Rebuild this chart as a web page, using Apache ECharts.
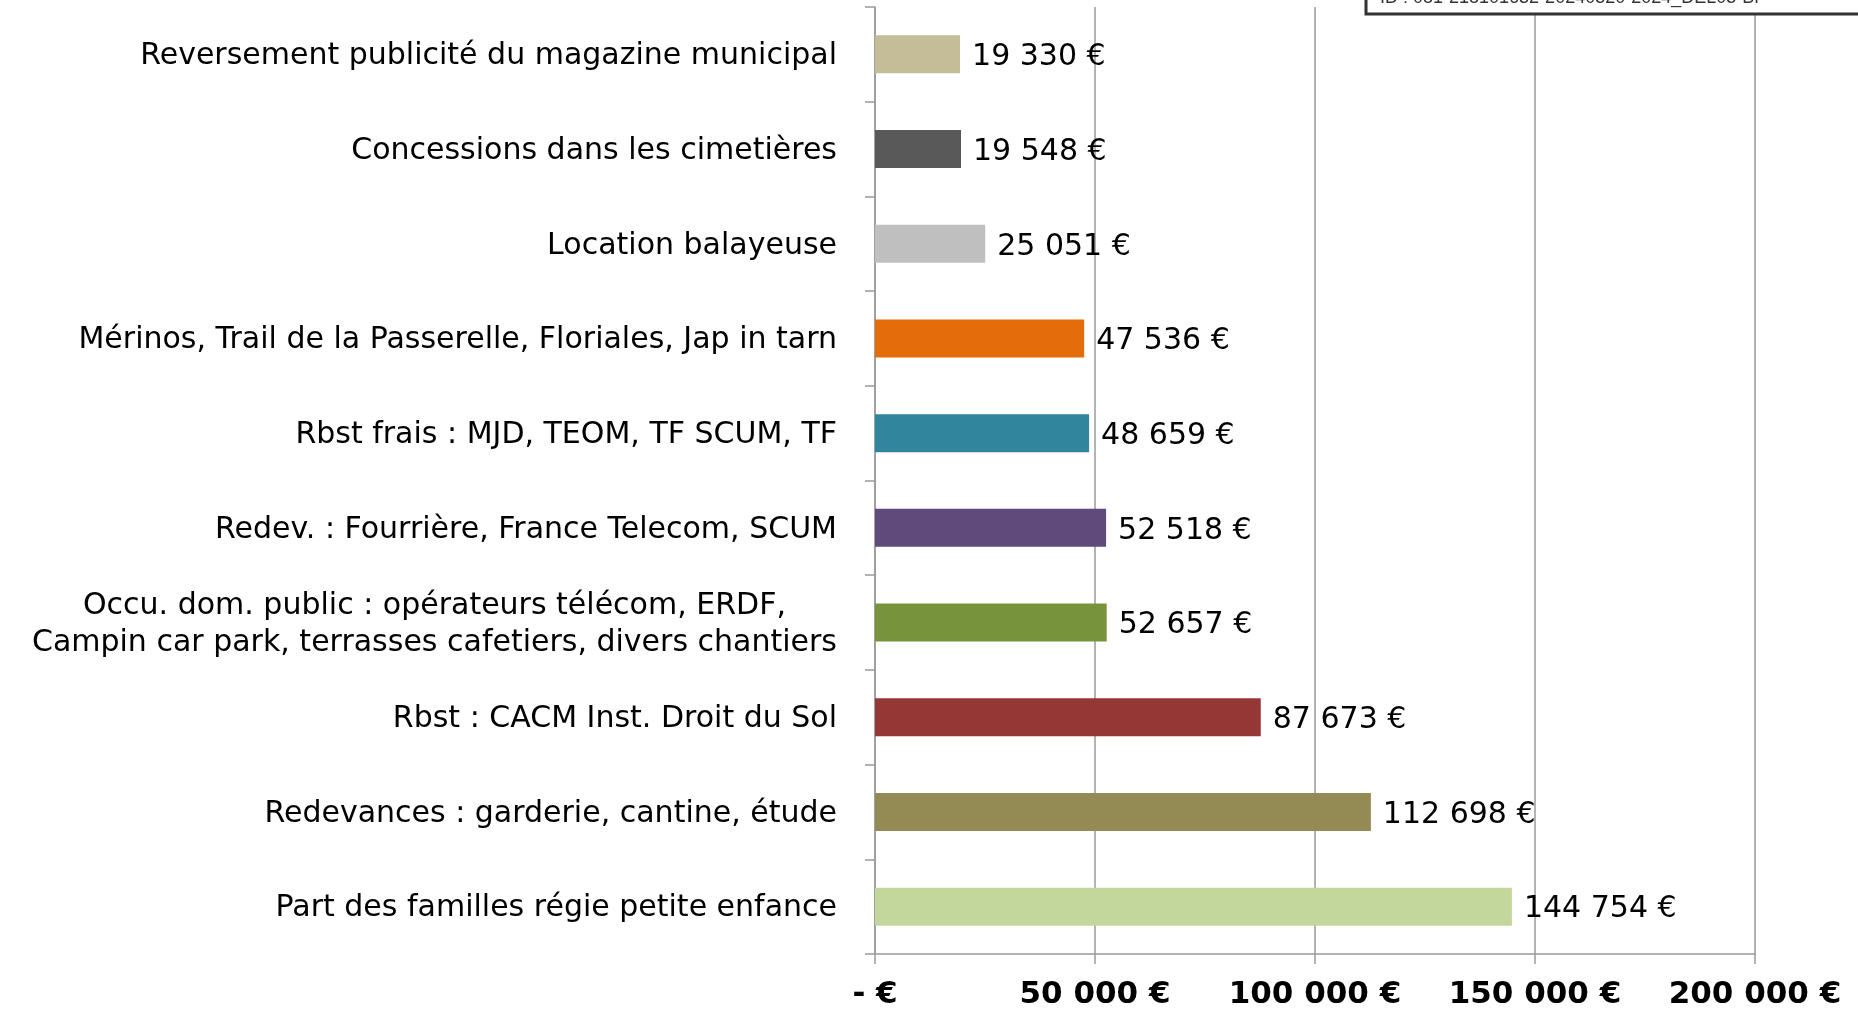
<!DOCTYPE html>
<html>
<head>
<meta charset="utf-8">
<script src="https://cdn.jsdelivr.net/npm/echarts@6/dist/echarts.min.js"></script>
<style>
html,body{margin:0;padding:0;background:#fff;}
#chart{width:1858px;height:1010px;}
</style>
</head>
<body>
<div id="chart"></div>
<script>
var categories = [
  "Reversement publicité du magazine municipal",
  "Concessions dans les cimetières",
  "Location balayeuse",
  "Mérinos, Trail de la Passerelle, Floriales, Jap in tarn",
  "Rbst frais : MJD, TEOM, TF SCUM, TF",
  "Redev. : Fourrière, France Telecom, SCUM",
  "Occu. dom. public : opérateurs télécom, ERDF,\nCampin car park, terrasses cafetiers, divers chantiers",
  "Rbst : CACM Inst. Droit du Sol",
  "Redevances : garderie, cantine, étude",
  "Part des familles régie petite enfance"
];
var values = [19330, 19548, 25051, 47536, 48659, 52518, 52657, 87673, 112698, 144754];
var barColors = ["#C4BD97", "#595959", "#BFBFBF", "#E46C0A", "#31859C", "#604A7B", "#77933C", "#953735", "#948A54", "#C3D69B"];
var xTicks = [0, 50000, 100000, 150000, 200000];
var stampText = "ID : 081-218101632-20240520-2024_DEL05-BF";

function fmt(v) {
  if (v === 0) return "- €";
  return String(v).replace(/\B(?=(\d{3})+(?!\d))/g, " ") + " €";
}

var chart = echarts.init(document.getElementById('chart'));
chart.setOption({
  animation: false,
  backgroundColor: '#fff',
  grid: { left: 875, right: 103, top: 7, bottom: 52, containLabel: false },
  xAxis: {
    type: 'value',
    min: xTicks[0],
    max: xTicks[xTicks.length - 1],
    interval: 50000,
    axisLine: { show: true, lineStyle: { color: '#9a9a9a', width: 1.5 } },
    axisTick: { show: true, length: 10, lineStyle: { color: '#9a9a9a', width: 1.5 } },
    splitLine: { show: true, lineStyle: { color: '#9a9a9a', width: 1.5 } },
    axisLabel: {
      margin: 25,
      color: '#000',
      fontFamily: 'DejaVu Sans',
      fontWeight: 'bold',
      fontSize: 31,
      formatter: fmt
    }
  },
  yAxis: {
    type: 'category',
    inverse: true,
    data: categories,
    axisLine: { show: true, lineStyle: { color: '#9a9a9a', width: 1.5 } },
    axisTick: { show: true, length: 10, lineStyle: { color: '#9a9a9a', width: 1.5 } },
    splitLine: { show: false },
    axisLabel: {
      margin: 38,
      color: '#000',
      fontFamily: 'DejaVu Sans',
      fontSize: 30,
      lineHeight: 37,
      padding: [4, 0, 0, 0],
      formatter: function (v) {
        return v.split('\n').map(function (s) { return '{c|' + s + '}'; }).join('\n');
      },
      rich: { c: { align: 'center', fontFamily: 'DejaVu Sans', fontSize: 30, color: '#000', lineHeight: 37 } }
    }
  },
  series: [{
    type: 'bar',
    barWidth: 38,
    data: values.map(function (v, i) { return { value: v, itemStyle: { color: barColors[i] } }; }),
    label: {
      show: true,
      position: 'right',
      distance: 12,
      offset: [0, 3],
      color: '#000',
      fontFamily: 'DejaVu Sans',
      fontSize: 30,
      formatter: function (p) { return fmt(p.value); }
    }
  }],
  graphic: [
    {
      type: 'rect',
      shape: { x: 1366, y: -20, width: 520, height: 34 },
      style: { fill: '#fff', stroke: '#333', lineWidth: 3 },
      z: 100
    },
    {
      type: 'text',
      x: 1380,
      y: 7,
      style: { text: stampText, fill: '#333', font: '18px "Liberation Sans", Arial, sans-serif', verticalAlign: 'bottom', textVerticalAlign: 'bottom' },
      z: 101
    }
  ]
});
</script>
</body>
</html>
